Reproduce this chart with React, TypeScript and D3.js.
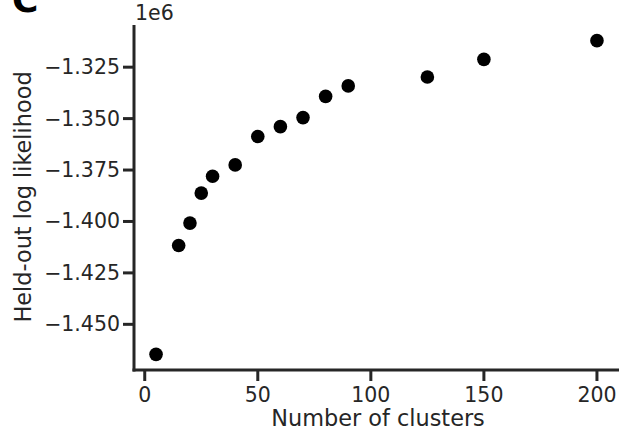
import React from "react";
import * as d3 from "d3";

// number of clusters vs held-out log likelihood (in units of 1e6)
const clusters = [5, 15, 20, 25, 30, 40, 50, 60, 70, 80, 90, 125, 150, 200];
const likelihood = [
  -1.4646, -1.4117, -1.4008, -1.3862, -1.378, -1.3725, -1.3587, -1.3539,
  -1.3495, -1.3392, -1.3341, -1.3298, -1.3212, -1.3121,
];
const xTicks = [0, 50, 100, 150, 200];
const yTicks = [-1.45, -1.425, -1.4, -1.375, -1.35, -1.325];

const W = 626;
const H = 433;
const ink = "#262626";
const font = "'DejaVu Sans', sans-serif";
const tickSize = 20.5;
const labelSize = 22.4;

export default function App() {
  const x = d3.scaleLinear().domain([-4.75, 209.75]).range([134, 619]);
  const y = d3.scaleLinear().domain([-1.4722, -1.3045]).range([370, 25]);
  const fmt = (v: number) => d3.format(".3f")(v).replace("-", "\u2212");

  const left = x.range()[0];
  const bottom = y.range()[0];

  return (
    <svg
      width={W}
      height={H}
      style={{ position: "absolute", left: 0, top: 0, background: "#fff", fontFamily: font }}
    >
      {/* panel letter, clipped by the top edge as in the figure */}
      <text x={12} y={12} fontSize={36} fontWeight="bold" fill="#000">
        C
      </text>

      {/* spines */}
      <line x1={left} x2={left} y1={y.range()[1]} y2={bottom + 1.5} stroke={ink} strokeWidth={3} />
      <line x1={left - 1.5} x2={x.range()[1]} y1={bottom} y2={bottom} stroke={ink} strokeWidth={3} />

      {/* y ticks */}
      {yTicks.map((t) => (
        <g key={t}>
          <line x1={left - 11} x2={left} y1={y(t)} y2={y(t)} stroke={ink} strokeWidth={3} />
          <text
            x={left - 14}
            y={y(t)}
            fontSize={tickSize}
            fill={ink}
            textAnchor="end"
            dominantBaseline="central"
          >
            {fmt(t)}
          </text>
        </g>
      ))}
      <text x={135} y={20} fontSize={tickSize} fill={ink}>
        1e6
      </text>

      {/* x ticks */}
      {xTicks.map((t) => (
        <g key={t}>
          <line x1={x(t)} x2={x(t)} y1={bottom} y2={bottom + 11} stroke={ink} strokeWidth={3} />
          <text x={x(t)} y={402} fontSize={tickSize} fill={ink} textAnchor="middle">
            {t}
          </text>
        </g>
      ))}

      {/* axis labels */}
      <text x={378} y={426} fontSize={labelSize} fill={ink} textAnchor="middle">
        Number of clusters
      </text>
      <text
        transform={`translate(31,197) rotate(-90)`}
        fontSize={labelSize}
        fill={ink}
        textAnchor="middle"
      >
        Held-out log likelihood
      </text>

      {/* points */}
      {clusters.map((c, i) => (
        <circle key={c} cx={x(c)} cy={y(likelihood[i])} r={6.8} fill="#000" />
      ))}
    </svg>
  );
}
